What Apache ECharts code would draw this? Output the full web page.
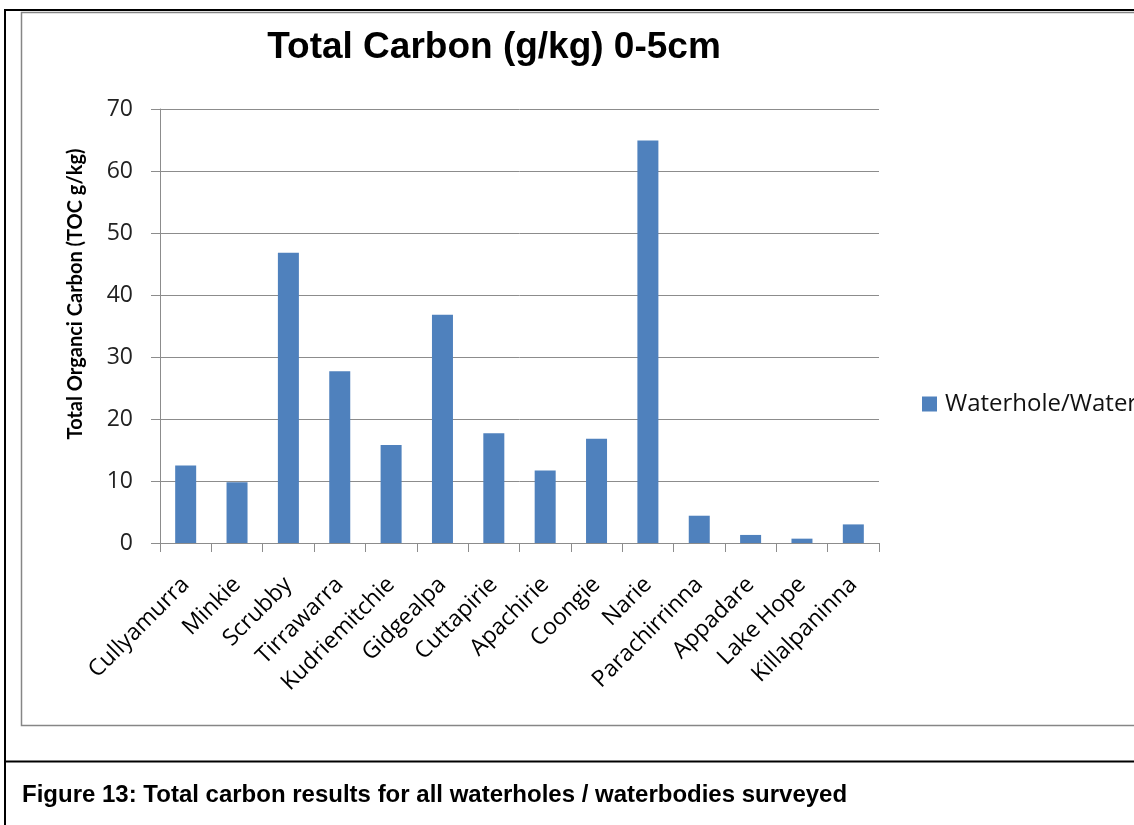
<!DOCTYPE html>
<html>
<head>
<meta charset="utf-8">
<script src="https://cdn.jsdelivr.net/npm/echarts@6/dist/echarts.min.js"></script>
<style>
html,body{margin:0;padding:0;background:#fff;}
#chart{width:1134px;height:825px;}
</style>
</head>
<body>
<div id="chart"></div>
<script>
const categories = ['Cullyamurra','Minkie','Scrubby','Tirrawarra','Kudriemitchie','Gidgealpa','Cuttapirie','Apachirie','Coongie','Narie','Parachirrinna','Appadare','Lake Hope','Killalpaninna'];
const seriesName = 'Waterhole/Waterbody';
const toc = [12.5, 9.8, 46.8, 27.7, 15.8, 36.8, 17.7, 11.7, 16.8, 64.9, 4.4, 1.3, 0.7, 3.0];
const chartTitle = 'Total Carbon (g/kg) 0-5cm';
const yAxisTitle = 'Total Organci Carbon (TOC g/kg)';
const caption = 'Figure 13: Total carbon results for all waterholes / waterbodies surveyed';
const yMin = 0, yMax = 70, yStep = 10;

const chart = echarts.init(document.getElementById('chart'), null, {renderer:'canvas'});
const gridColor = '#8c8c8c';
chart.setOption({
  animation:false,
  backgroundColor:'#ffffff',
  title:{
    text:chartTitle, left:494, top:48, textAlign:'center', textVerticalAlign:'middle', padding:0,
    textStyle:{fontFamily:'Liberation Sans', fontWeight:'bold', fontSize:37, color:'#000'}
  },
  legend:{
    left:922, top:392, orient:'vertical', itemWidth:15, itemHeight:15, padding:0,
    icon:'rect',
    data:[seriesName],
    textStyle:{fontFamily:'Open Sans', fontSize:24, color:'#111', padding:[0,0,0,3]}
  },
  grid:{left:160, right:255, top:109, bottom:282, containLabel:false},
  xAxis:{
    type:'category', data:categories, boundaryGap:true,
    axisLine:{show:true, lineStyle:{color:gridColor, width:1}},
    axisTick:{show:true, length:9, inside:false, alignWithLabel:false, lineStyle:{color:gridColor}},
    axisLabel:{rotate:45, interval:0, margin:38, fontFamily:'Open Sans', fontSize:23, color:'#000'},
    splitLine:{show:false}
  },
  yAxis:{
    type:'value', min:yMin, max:yMax, interval:yStep,
    axisLine:{show:true, lineStyle:{color:gridColor, width:1}},
    axisTick:{show:true, length:9, lineStyle:{color:gridColor}},
    axisLabel:{margin:27, fontFamily:'Open Sans', fontSize:23, color:'#222'},
    splitLine:{show:true, lineStyle:{color:gridColor, width:1}}
  },
  series:[{
    name:seriesName, type:'bar', data:toc, barWidth:21,
    itemStyle:{color:'#4F81BD'}
  }],
  graphic:[
    {type:'rect', shape:{x:5, y:10, width:1140, height:900}, style:{fill:'none', stroke:'#000', lineWidth:2}, silent:true, z:-10},
    {type:'rect', shape:{x:21.5, y:12.5, width:1140, height:713}, style:{fill:'none', stroke:'#868686', lineWidth:1.5}, silent:true, z:-9},
    {type:'line', shape:{x1:5, y1:761.5, x2:1134, y2:761.5}, style:{stroke:'#000', lineWidth:2}, silent:true},
    {type:'text', x:76, y:294, rotation:Math.PI/2,
     style:{text:yAxisTitle, fontFamily:'Lato', fontWeight:'bold', fontSize:20, fill:'#000', textAlign:'center', textVerticalAlign:'middle'}},
    {type:'text', x:22, y:795,
     style:{text:caption, fontFamily:'Liberation Sans', fontWeight:'bold', fontSize:24, fill:'#000', textAlign:'left', textVerticalAlign:'middle'}}
  ]
});
</script>
</body>
</html>
